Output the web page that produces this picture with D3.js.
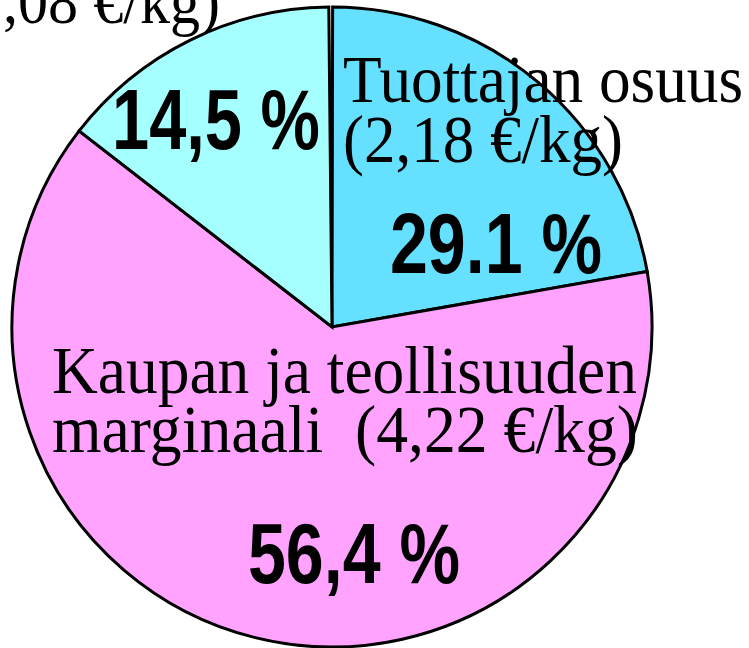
<!DOCTYPE html>
<html>
<head>
<meta charset="utf-8">
<script src="https://cdn.jsdelivr.net/npm/d3@7"></script>
<style>
  body { margin: 0; background: #ffffff; overflow: hidden; }
  text { white-space: pre; }
</style>
</head>
<body>
<div id="pie"></div>
<script>
var svgWidth = 749;
var svgHeight = 648;

// Slice sizes as drawn (share of the circle, %)
var sliceNames = ["Tuottajan osuus", "Kaupan ja teollisuuden marginaali", "Arvonlisävero"];
var sliceValues = [22.2, 63.3, 14.35];
var sliceColors = ["#66e0ff", "#ffa3ff", "#a6ffff"];

// Label texts
var nameLines = [
  ["Tuottajan osuus", "(2,18 €/kg)"],
  ["Kaupan ja teollisuuden", "marginaali  (4,22 €/kg)"],
  ["Arvonlisävero", "(1,08 €/kg)"]
];
var percentLabels = ["29.1 %", "56,4 %", "14,5 %"];

// layout of the labels (x, first baseline, line step, font size, line widths)
var nameLayout = [
  { x: 343, y: 102, dy: 60, size: 67, widths: [400, 280] },
  { x: 52, y: 393, dy: 59, size: 67, widths: [585, 586] },
  { x: -47, y: -37, dy: 60, size: 63, widths: [null, 267] }
];
var percentLayout = [
  { x: 390, y: 273, w: 212 },
  { x: 248, y: 583, w: 212 },
  { x: 112, y: 149, w: 208 }
];

var cx = 332;
var cy = 327;
var radius = 320;

var svg = d3.select("#pie")
  .append("svg")
  .attr("width", svgWidth)
  .attr("height", svgHeight);

var pieGroup = svg.append("g")
  .attr("transform", `translate(${cx}, ${cy})`);

// small white gap is left at 12 o'clock
var pie = d3.pie()
  .sort(null)
  .startAngle(0.002)
  .endAngle(2 * Math.PI - 0.010);

var arc = d3.arc()
  .innerRadius(0)
  .outerRadius(radius);

pieGroup.selectAll("path")
  .data(pie(sliceValues))
  .enter()
  .append("path")
  .attr("d", arc)
  .attr("fill", (d, i) => sliceColors[i])
  .attr("stroke", "#000000")
  .attr("stroke-width", 3)
  .attr("stroke-linejoin", "miter");

// Name labels (serif)
nameLines.forEach(function(lines, i) {
  var lay = nameLayout[i];
  var t = svg.append("text")
    .attr("font-family", "'Liberation Serif', 'Times New Roman', serif")
    .attr("font-size", lay.size)
    .attr("fill", "#000000");
  lines.forEach(function(line, j) {
    var span = t.append("tspan")
      .attr("x", lay.x)
      .attr("y", lay.y + j * lay.dy)
      .text(line);
    if (lay.widths[j]) {
      span.attr("textLength", lay.widths[j])
        .attr("lengthAdjust", "spacingAndGlyphs");
    }
  });
});

// Percent labels (bold, condensed)
svg.selectAll(".pct")
  .data(percentLabels)
  .enter()
  .append("text")
  .attr("class", "pct")
  .attr("x", (d, i) => percentLayout[i].x)
  .attr("y", (d, i) => percentLayout[i].y)
  .attr("textLength", (d, i) => percentLayout[i].w)
  .attr("lengthAdjust", "spacingAndGlyphs")
  .attr("font-family", "'Liberation Sans', Arial, sans-serif")
  .attr("font-weight", "bold")
  .attr("font-size", 86)
  .attr("fill", "#000000")
  .text(d => d);
</script>
</body>
</html>
